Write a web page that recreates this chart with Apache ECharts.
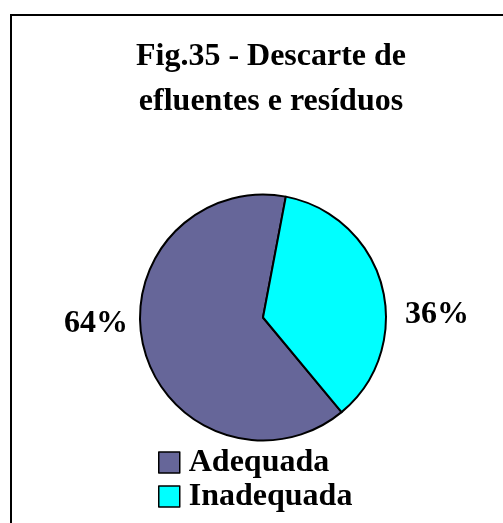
<!DOCTYPE html>
<html>
<head>
<meta charset="utf-8">
<script src="https://cdn.jsdelivr.net/npm/echarts@6/dist/echarts.min.js"></script>
<style>
  html, body { margin: 0; padding: 0; background: #fff; }
  #chart { width: 503px; height: 523px; }
</style>
</head>
<body>
<div id="chart"></div>
<script>
// Waste & effluent disposal breakdown
const categories = ['Adequada', 'Inadequada'];
const shares = [64, 36];
const sliceColors = ['#666699', '#00FFFF'];
const titleText = 'Fig.35 - Descarte de\nefluentes e resíduos';

const FONT = '"Liberation Serif", "Times New Roman", serif';
const cx = 263, cy = 317.5, R = 123;

// per-slice label offsets from the pie centre
const labelOffsets = [
  { dx: -167, dy: 6 },
  { dx: 174, dy: -2.5 }
];

const chart = echarts.init(document.getElementById('chart'), null, { renderer: 'canvas' });

chart.setOption({
  backgroundColor: '#ffffff',
  animation: false,
  graphic: [{
    type: 'rect',
    shape: { x: 11, y: 15, width: 600, height: 600 },
    style: { fill: 'none', stroke: '#000', lineWidth: 2 },
    silent: true
  }],
  title: {
    text: titleText,
    left: 271,
    textAlign: 'center',
    top: 34,
    padding: 0,
    textStyle: {
      fontFamily: FONT,
      fontWeight: 'bold',
      fontSize: 32,
      lineHeight: 45,
      color: '#000'
    }
  },
  legend: {
    data: categories,
    orient: 'vertical',
    left: 158,
    top: 445.5,
    padding: 0,
    itemWidth: 21,
    itemHeight: 21,
    itemGap: 0,
    icon: 'rect',
    itemStyle: { borderColor: '#000', borderWidth: 1.5 },
    textStyle: {
      fontFamily: FONT,
      fontWeight: 'bold',
      fontSize: 32,
      lineHeight: 34,
      color: '#000',
      padding: [0, 0, 0, 4]
    }
  },
  series: [{
    type: 'pie',
    center: [cx, cy],
    radius: R,
    startAngle: -50.3,
    clockwise: true,
    data: categories.map((name, i) => ({
      name,
      value: shares[i],
      itemStyle: { color: sliceColors[i] }
    })),
    itemStyle: { borderColor: '#000', borderWidth: 2 },
    emphasis: { disabled: true },
    label: {
      show: true,
      position: 'outside',
      alignTo: 'none',
      overflow: 'none',
      edgeDistance: 0,
      formatter: '{d}%',
      fontFamily: FONT,
      fontWeight: 'bold',
      fontSize: 32,
      color: '#000'
    },
    labelLine: { show: false },
    labelLayout: function (params) {
      const o = labelOffsets[params.dataIndex];
      return {
        x: cx + o.dx,
        y: cy + o.dy,
        align: 'center',
        verticalAlign: 'middle'
      };
    }
  }]
});
</script>
</body>
</html>
